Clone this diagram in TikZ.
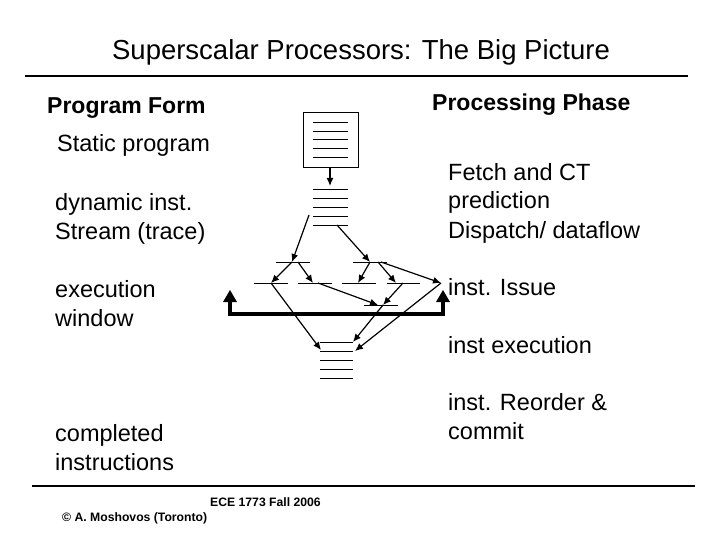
\documentclass[tikz,border=0pt]{standalone}
\usepackage{fontspec}
\setmainfont{Liberation Sans}
\usetikzlibrary{arrows.meta}

\tikzset{
  lbl/.style={anchor=base west, inner sep=0pt, align=left, font=\fontsize{23.5}{29}\selectfont},
  hdr/.style={anchor=base west, inner sep=0pt, font=\fontsize{23}{26}\selectfont\bfseries},
  foot/.style={anchor=base west, inner sep=0pt, font=\fontsize{12.2}{14}\selectfont\bfseries},
  flow/.style={-{Latex[length=8pt,width=7pt]}, line width=1.2pt},
  slot/.style={line width=0.8pt},
}

\begin{document}
\begin{tikzpicture}[x=1pt,y=-1pt]
\useasboundingbox (0,0) rectangle (720,540);

% title and rules
\node[inner sep=0pt, anchor=base, font=\fontsize{27.5}{30}\selectfont] (title) at (361,60) {Superscalar Processors: The Big Picture};
\draw[line width=2.5pt] (25,76) -- (688,76);
\draw[line width=2.5pt] (32,486) -- (695,486);

% left column (multi-line nodes sit on their last baseline)
\node[hdr] (pform) at (47,114) {Program Form};
\node[lbl] (static) at (57,152) {Static program};
\node[lbl] (dyn) at (55,240) {dynamic inst.\\Stream (trace)};
\node[lbl] (win) at (55,326) {execution\\window};
\node[lbl] (done) at (55,470) {completed\\instructions};

% right column
\node[hdr] (phase) at (432,111) {Processing Phase};
\node[lbl] (fetch) at (448,238) {Fetch and CT\\prediction\\Dispatch/ dataflow};
\node[lbl] (issue) at (448,295) {inst. Issue};
\node[lbl] (exec) at (448,353) {inst execution};
\node[lbl] (commit) at (448,439) {inst. Reorder \&\\commit};

% footer
\node[foot] (course) at (210,506) {ECE 1773 Fall 2006};
\node[foot] (author) at (62,521) {\textcopyright{} A. Moshovos (Toronto)};

% static program box
\draw[line width=0.8pt] (303,112) rectangle (358,167);
\foreach \y in {122,131,139,148,157}
  \draw[slot] (313,\y) -- (348,\y);

% dynamic stream
\foreach \y in {189,198,207,216,225}
  \draw[slot] (313,\y) -- (348,\y);

% window rows
\draw[slot] (276,262) -- (310,262);
\draw[slot] (353,262) -- (387,262);
\foreach \a/\b in {254/288,298/332,342/376,387/420}
  \draw[slot] (\a,283) -- (\b,283);
\draw[slot] (364,305) -- (398,305);

% completed stack
\foreach \y in {342,351,360,369,378}
  \draw[slot] (320,\y) -- (353,\y);

% execution bar
\draw[line width=4.5pt, line join=miter] (230,298) -- (230,314) -- (443,314) -- (443,298);
\fill (223,302) -- (230,290) -- (237,302) -- cycle;
\fill (436,302) -- (443,290) -- (450,302) -- cycle;

% connector points
\coordinate (s0) at (330,167);  \coordinate (d0) at (330,186);
\coordinate (d1) at (309,215);  \coordinate (d2) at (337,225);
\coordinate (w1) at (292,262);  \coordinate (w2) at (298,262);
\coordinate (w3) at (370,262);  \coordinate (w4) at (378,262);
\coordinate (w5) at (381,262);
\coordinate (r1) at (271,283);  \coordinate (r2) at (313,283);
\coordinate (r3) at (358,283);  \coordinate (r4) at (396,283);
\coordinate (r5) at (441,283);  \coordinate (r6) at (318,283);
\coordinate (r7) at (403,283);
\coordinate (q1) at (378,305);  \coordinate (q2) at (383,305);
\coordinate (c1) at (321,350);  \coordinate (c2) at (353,342);
\coordinate (c3) at (355,351);

\draw[flow] (s0) -- (d0);
\draw[flow] (d1) -- (w1);
\draw[flow] (d2) -- (w3);
\draw[flow] (w1) -- (r1);
\draw[flow] (w2) -- (r2);
\draw[flow] (w3) -- (r3);
\draw[flow] (w4) -- (r4);
\draw[flow] (w5) -- (r5);
\draw[flow] (r6) -- (q1);
\draw[flow] (r7) -- (q2);
\draw[flow] (r1) -- (c1);
\draw[flow] (q2) -- (c2);
\draw[flow] (r5) -- (c3);

\end{tikzpicture}
\end{document}
